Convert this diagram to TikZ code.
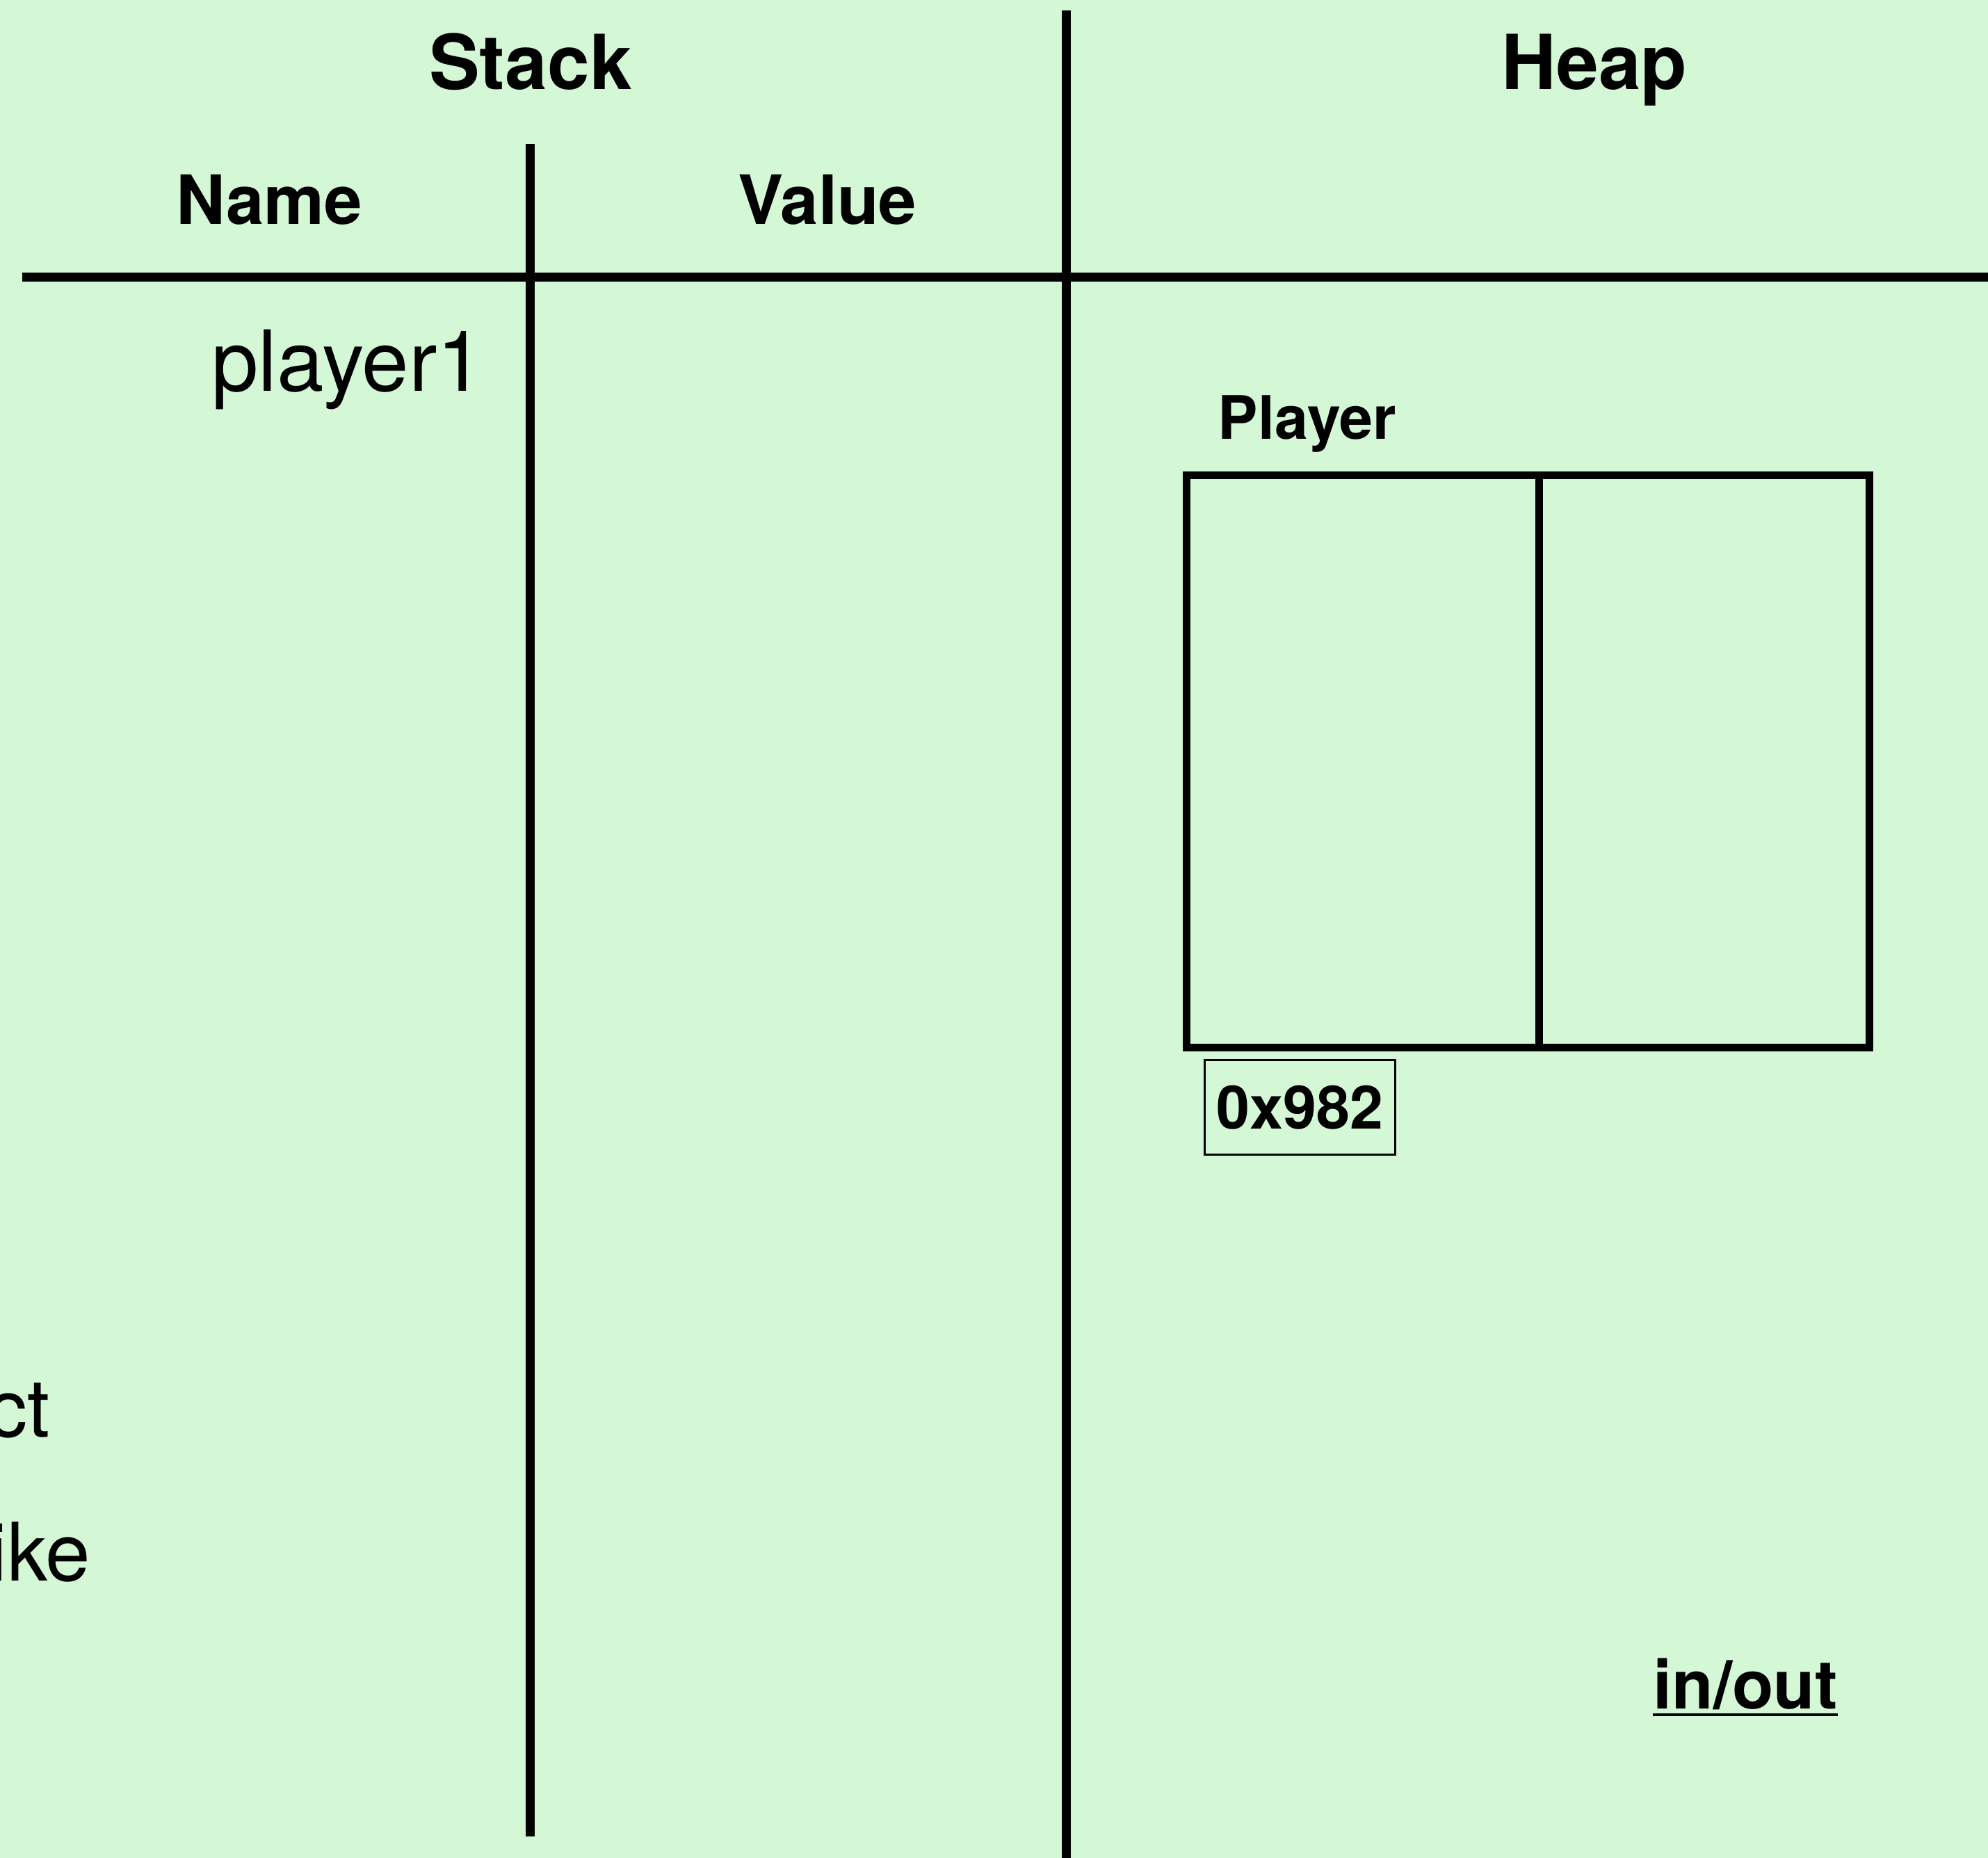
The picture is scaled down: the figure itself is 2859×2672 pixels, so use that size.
\documentclass[tikz,border=0pt]{standalone}
\usepackage{fontspec}
\setmainfont{TeX Gyre Heros}
\usetikzlibrary{calc}
\definecolor{board}{RGB}{212,247,213}
\begin{document}
\begin{tikzpicture}[x=0.01cm, y=-0.01cm,
  rule/.style={line width=0.13cm, line cap=butt},
  objline/.style={line width=0.11cm, line join=miter},
  title/.style={inner sep=0, anchor=base, font=\bfseries\fontsize{31}{37}\selectfont},
  colhead/.style={inner sep=0, anchor=base, font=\bfseries\fontsize{27.8}{33}\selectfont},
  varname/.style={inner sep=0, font=\fontsize{34.5}{41}\selectfont},
  edgeword/.style={inner sep=0, anchor=base east, font=\fontsize{33}{40}\selectfont},
  small/.style={inner sep=0, anchor=base, font=\bfseries\fontsize{24.5}{30}\selectfont}]
  % canvas
  \fill[board] (0,0) rectangle (2859,2672);
  \useasboundingbox (0,0) rectangle (2859,2672);
  \clip (0,0) rectangle (2859,2672);

  % table rules
  \draw[rule] (1533.5,15) -- (1533.5,2672);
  \draw[rule] (762.5,207) -- (762.5,2641);
  \draw[rule] (32,398.5) -- (2859,398.5);

  % headings
  \node[title] (stack) at (763,128) {Stack};
  \node[title] (heap) at (2293,128) {Heap};
  \node[colhead] (name) at (387,322) {Name};
  \node[colhead] (value) at (1190,322) {Value};

  % stack entries
  \node[varname, anchor=base] (p1) at (500,562) {player1};
  \node[edgeword] (w1) at (72,2066) {ct};
  \node[edgeword] (w2) at (131,2273) {ike};

  % heap object
  \node[small] (cls) at (1880,631) {Player};
  \draw[objline] (1706.5,683.5) rectangle (2688,1506.5);
  \draw[objline] (2213.5,683.5) -- (2213.5,1506.5);
  \node[draw, line width=0.85pt, inner sep=0, minimum width=2.73cm, minimum height=1.35cm,
        font=\bfseries\fontsize{24.5}{30}\selectfont] (addr) at (1869.5,1592.5) {0x982};

  % in/out label
  \node[inner sep=0, anchor=base, font=\bfseries\fontsize{27.7}{33}\selectfont] (io) at (2510,2457) {in/out};
  \draw[line width=0.04cm] ($(io.base west)+(0,9)$) -- ($(io.base east)+(0,9)$);
\end{tikzpicture}
\end{document}
